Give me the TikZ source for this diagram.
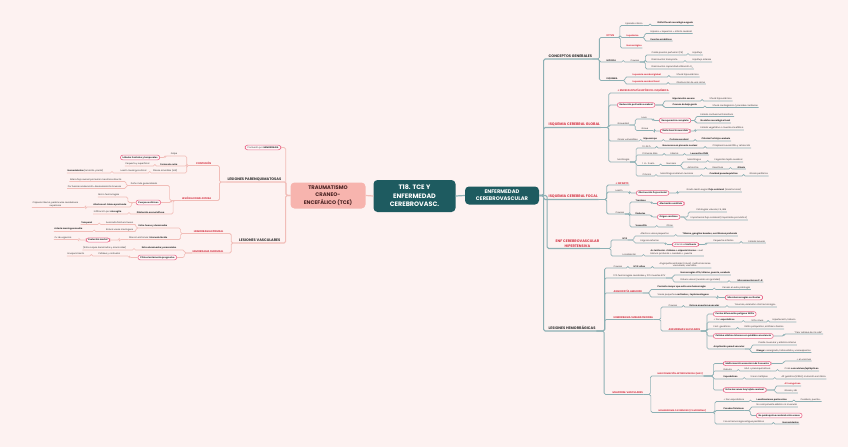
\documentclass[tikz,border=0pt]{standalone}
\usepackage{fontspec}
\setmainfont{Poppins}
\newfontfamily\dvfont{DejaVu Sans}
\usetikzlibrary{calc}
\definecolor{bg}{HTML}{FDF2F1}
\definecolor{tealL}{HTML}{8CB0B4}
\definecolor{pinkL}{HTML}{F1BDB8}
\definecolor{redT}{HTML}{D63A4A}
\definecolor{boxC}{HTML}{EA6B8C}
\definecolor{dteal}{HTML}{1E5B60}
\definecolor{pinkN}{HTML}{F7B4AE}
\definecolor{txt}{HTML}{333333}
\definecolor{tceT}{HTML}{4A2222}
\newcommand\fsA{\fontsize{2.2}{2.7}\selectfont}
\newcommand\frA{\fontsize{2.5}{3}\selectfont}
\newcommand\fmA{\fontsize{3.6}{4.3}\selectfont}
\tikzset{
 tl/.style={draw=tealL, line width=0.6pt, rounded corners=1.5pt},
 pl/.style={draw=pinkL, line width=0.6pt, rounded corners=1.5pt},
 t/.style={font=\fsA, text=txt, inner xsep=0.5pt, inner ysep=0.7pt, align=left},
 tb/.style={t, font=\fsA\bfseries},
 tr/.style={t, font=\frA\bfseries, text=redT},
 trs/.style={t, font=\fsA\bfseries, text=redT},
 mh/.style={t, font=\fmA\bfseries, inner ysep=1pt},
 mhr/.style={mh, text=redT},
 bx/.style={draw=boxC, line width=0.6pt, rounded corners=2.4pt, fill=white!55!bg, font=\fsA\bfseries, text=txt, inner xsep=2.2pt, inner ysep=1.2pt},
 bxn/.style={bx, font=\fsA},
}
\newcommand\kid[7][]{%
 \node[#4,anchor=south west] (#3) at (#5,#6) {#7};
 \coordinate (kp) at (#2);
 \coordinate (kc) at (#5,#6);
 \coordinate (km) at ($(kp)!0.5!(kc)$);
 \draw[tl,#1] (kp) -- (km |- kp) |- (kc) -- (#3.south east);}
\newcommand\kbx[7][]{%
 \node[#4,anchor=west] (#3) at (#5,#6) {#7};
 \coordinate (kp) at (#2);
 \coordinate (kc) at (#5,#6);
 \coordinate (km) at ($(kp)!0.5!(kc)$);
 \draw[tl,#1] (kp) -- (km |- kp) |- (kc);}
\newcommand\lkid[7][]{%
 \node[#4,anchor=south east] (#3) at (#5,#6) {#7};
 \coordinate (kp) at (#2);
 \coordinate (kc) at (#5,#6);
 \coordinate (km) at ($(kp)!0.5!(kc)$);
 \draw[pl,#1] (kp) -- (km |- kp) |- (kc) -- (#3.south west);}
\newcommand\lkbx[7][]{%
 \node[#4,anchor=east] (#3) at (#5,#6) {#7};
 \coordinate (kp) at (#2);
 \coordinate (kc) at (#5,#6);
 \coordinate (km) at ($(kp)!0.5!(kc)$);
 \draw[pl,#1] (kp) -- (km |- kp) |- (kc);}
\begin{document}
\begin{tikzpicture}[x=1pt,y=-1pt]
\fill[bg] (0,0) rectangle (848,447);
\useasboundingbox (0,0) rectangle (848,447);
% central nodes
\node[fill=dteal, rounded corners=4pt, text=white, font=\fontsize{6.4}{8.6}\selectfont\bfseries, align=center, minimum width=82pt, minimum height=32pt, inner sep=1pt] (ctr) at (414.5,196) {T18. TCE Y\\ENFERMEDAD\\CEREBROVASC.};
\node[fill=pinkN, rounded corners=4pt, text=tceT, font=\fontsize{5.2}{7.4}\selectfont\bfseries, align=center, minimum width=75pt, minimum height=26pt, inner sep=1pt] (tce) at (328,195.5) {TRAUMATISMO\\CRANEO-\\ENCEFÁLICO (TCE)};
\node[fill=dteal, rounded corners=4pt, text=white, font=\fontsize{5.2}{7}\selectfont\bfseries, align=center, minimum width=74pt, minimum height=18pt, inner sep=1pt] (ecv) at (502,195.5) {ENFERMEDAD\\CEREBROVASCULAR};
\draw[tl, line width=1.2pt] (ctr.east) -- (ecv.west);
\draw[pl, line width=1.2pt] (ctr.west) -- (tce.east);

% ---------- RIGHT ----------
\kid[line width=1.1pt]{ecv.east}{cg}{mh}{548}{59}{CONCEPTOS GENERALES}
\kid[line width=1.1pt]{ecv.east}{icg}{mhr}{548}{127.5}{ISQUEMIA CEREBRAL GLOBAL}
\kid[line width=1.1pt]{ecv.east}{icf}{mhr}{548}{199.5}{ISQUEMIA CEREBRAL FOCAL}
\kid[line width=1.1pt]{ecv.east}{ecvh}{mhr,align=center}{555}{248.5}{ENF CEREBROVASCULAR\\HIPERTENSIVA}
\kid[line width=1.1pt]{ecv.east}{lh}{mh}{548}{331}{LESIONES HEMORRÁGICAS}

% conceptos generales
\kid[line width=.8pt]{cg.south east}{ictus}{tr}{606}{37.5}{ICTUS}
\kid{ictus.south east}{epi}{t}{625}{25.5}{Episodio clínico}
\kid{epi.south east}{defi}{tb}{657}{25.5}{Déficit focal neurológico agudo}
\kid{ictus.south east}{isq}{trs}{626}{37.5}{Isquémico}
\kid{isq.south east}{hipa}{t}{650}{33.5}{Hipoxia {\dvfont→} isquemia {\dvfont→} infarto cerebral}
\kid{isq.south east}{emb}{tb}{650}{41}{Eventos embólicos}
\kid{ictus.south east}{hem}{trs}{626}{48}{Hemorrágico}
\kid[line width=.8pt]{cg.south east}{hipox}{tb}{606}{62}{HIPOXIA}
\kid{hipox.south east}{caua}{t}{630}{62}{Causas}
\kid{caua.south east}{ca}{t}{651}{55}{Caída presión perfusión (PA)}
\kid{ca.south east}{cab}{t}{692}{55}{Hipoflujo}
\kid{caua.south east}{cb}{t}{651}{62}{Disminución transporte}
\kid{cb.south east}{cbb}{t}{692}{62}{Hipoflujo arterias}
\kid{caua.south east}{cc}{t}{651}{69}{Disminución capacidad utilización O\textsubscript{2}}
\kid[line width=.8pt]{cg.south east}{isqm}{tb}{606}{80.5}{ISQUEMIA}
\kid{isqm.south east}{igl}{trs}{632}{77}{Isquemia cerebral global}
\kid{igl.south east}{shk}{t}{676}{77}{Shock hipovolémico}
\kid{isqm.south east}{ifo}{trs}{632}{84}{Isquemia cerebral focal}
\kid{ifo.south east}{obs}{t}{676}{84}{Obstrucción de una rama}

% isquemia cerebral global
\kid[line width=.8pt]{icg.south east}{ence}{tr}{617}{93}{+ ENCEFALOPATÍA HIPÓXICO-ISQUÉMICA}
\kbx[line width=.8pt]{icg.south east}{red}{bx}{617}{105}{Reducción perfusión cerebral}
\kid{red.east}{hs}{tb}{672}{101}{Hipotensión severa}
\kid{hs.south east}{shb}{t}{709}{101}{Shock hipovolémico}
\kid{red.east}{cbg}{tb}{672}{107.5}{Causas de bajo gasto}
\kid{cbg.south east}{sca}{t}{712}{107.5}{Shock cardiogénico / paradas cardíacas}
\kid[line width=.8pt]{icg.south east}{grav}{t}{617}{125}{Gravedad}
\kid{grav.south east}{leve}{t}{641}{119}{Leve}
\kbx{leve.south east}{rc}{bx}{659}{120.5}{Recuperación completa}
\kid{rc.east}{ect}{t}{700}{116.5}{Estado confusional transitorio}
\kid{rc.east}{nd}{tb}{700}{123}{No daño neurológico focal}
\kid{grav.south east}{grave}{t}{641}{130.5}{Grave}
\kbx{grave.south east}{df}{bx}{660}{131}{Daño focal irreversible}
\kid{df.east}{ev}{t}{700}{130}{Estado vegetativo o muerte encefálica}
\kid[line width=.8pt]{icg.south east}{zv}{t}{617}{141}{Zonas vulnerables}
\kid{zv.south east}{hipo}{tb}{643}{141}{Hipocampo}
\kid{hipo.south east}{ccr}{tb}{669}{141}{Corteza cerebral}
\kid{ccr.south east}{cpk}{tb}{701}{141}{Células Purkinje cerebelo}
\kid[line width=.8pt]{icg.south east}{morf}{t}{617}{162}{Morfología}
\kid{morf.south east}{agu}{t}{642}{148}{12-24 h}
\kid{agu.south east}{nr}{tb}{662}{148}{Neuronas con picnosis nuclear}
\kid{nr.south east}{cit}{t}{712}{148}{Citoplasma eosinófilo y retracción}
\kid{morf.south east}{pd}{t}{642}{155}{Primeros días}
\kid{pd.south east}{ed}{t}{670}{155}{Edema}
\kid{ed.south east}{pmn}{tb}{690}{155}{Leucocitos PMN}
\kid{morf.south east}{sem}{t}{642}{165.5}{1 d - 2 sem}
\kid{sem.south east}{nec}{t}{666}{165.5}{Necrosis}
\kid{nec.south east}{mac}{t}{687}{162}{Macrófagos}
\kid{mac.south east}{fag}{t}{714}{162}{Fagocitan tejido cerebral}
\kid{nec.south east}{ast}{t}{687}{169}{Astrocitos}
\kid{ast.south east}{rea}{t}{712}{169}{Reactivos}
\kid{rea.south east}{gli}{tb}{737}{169}{Gliosis}
\kid{morf.south east}{cro}{t}{642}{176}{Crónico}
\kid{cro.south east}{mri}{t}{660}{176}{Macrófagos rellenan necrosis}
\kid{mri.south east}{cav}{tb}{709}{176}{Cavidad pseudoquística}
\kid{cav.south east}{gp}{t}{749}{176}{Gliosis periférica}

% isquemia cerebral focal
\kid[line width=.8pt]{icf.south east}{inf}{tr}{615}{185}{+ INFARTO}
\kid[line width=.8pt]{icf.south east}{les}{t}{615}{192}{Lesión}
\kbx{les.south east}{ofa}{bx}{636}{193}{Obstrucción flujo arterial}
\kid{ofa.east}{glc}{t}{686}{192}{Grado lesión según \textbf{flujo colateral} (anastomosis)}
\kid[line width=.8pt]{icf.south east}{caub}{t}{615}{214}{Causas}
\kid{caub.south east}{tro}{tb}{635}{202}{Trombos}
\kbx{tro.south east}{ac}{bx}{657}{203.5}{Afectación carótida}
\kid{caub.south east}{embb}{tb}{635}{215}{Émbolos}
\kbx{embb.south east}{oc}{bx}{657}{217}{Origen cardíaco}
\kid{oc.east}{pv}{t}{696}{212}{Patologías valvular, FA, IAM}
\kid{oc.east}{imp}{t}{690}{220}{Importancia flujo colateral (importante pronóstico)}
\kid{caub.south east}{vas}{tb}{635}{227}{Vasculitis}
\kid{vas.south east}{otr}{t}{666}{227}{Otras}

% hipertensiva
\kid[line width=.8pt]{ecvh.south east}{hta}{tb}{622}{240}{HTA}
\kid{hta.south east}{avp}{t}{640}{236}{Afecta a vasos pequeños}
\kid{avp.south east}{tgb}{tb}{682}{236}{Tálamo, ganglios basales, sust blanca profunda}
\kid{hta.south east}{ea}{t}{640}{243}{Engrosa arterias}
\kbx{ea.south east}{ah}{bxn}{672}{244.5}{Arteriolas \textbf{hialinosis}}
\kid{ah.east}{pin}{t}{713}{243}{Pequeños infartos}
\kid{pin.south east}{el}{t}{748}{243}{Estado lacunar}
\kid[line width=.8pt]{ecvh.south east}{loc}{t}{622}{256}{Localización}
\kid{loc.south east}{acl}{t}{650}{256}{\textbf{Ac lenticular + tálamo + cápsula interna} + sust\\blanca profunda + cerebelo + puente}

% lesiones hemorragicas
\kid[line width=.8pt]{lh.south east}{cauc}{t}{613}{268}{Causas}
\kid{cauc.south east}{htaa}{tb}{633}{268}{HTA: altas}
\kid{htaa.south east}{aw}{t,align=center}{659}{268}{Angiopatía amiloide (rotura), malformaciones\\vasculares, vasculitis...}
\kid[line width=.8pt]{lh.south east}{pct}{t}{613}{278}{10\% hemorragias cerebrales y 10\% muertes ECV}
\kid{pct.south east}{ht}{tb}{680}{275}{Hemorragias HTA, tálamo, puente, cerebelo}
\kid{pct.south east}{rv}{t}{680}{282}{Rotura vasos (cuando son grandes)}
\kid{rv.south east}{mcb}{tb}{737}{282}{Microaneurismas C-B}
\kid[line width=.8pt]{lh.south east}{aa}{tr}{613}{293}{ANGIOPATÍA AMILOIDE}
\kid{aa.south east}{pm}{tb}{657}{289.5}{Paciente mayor que sufre una hemorragia}
\kid{pm.south east}{pep}{t}{722}{289.5}{Pensar en esta patología}
\kid{aa.south east}{vp}{t}{657}{297}{Vasos pequeños \textbf{corticales} y \textbf{leptomeníngeos}}
\kbx{vp.south east}{mhc}{bx}{725}{297.5}{Microhemorragias corticales}
\kid[line width=.8pt]{lh.south east}{hsa}{tr}{613}{319.5}{HEMORRAGIA SUBARACNOIDEA}
\kid{hsa.south east}{caud}{t}{668}{307}{Causas}
\kid{caud.south east}{ras}{tb}{689}{307}{Rotura aneurisma sacular}
\kid{ras.south east}{tra}{t}{734}{307}{Traumas, extensión otra hemorragia...}
\kid{hsa.south east}{asc}{tr}{668}{331}{ANEURISMAS SACULARES}
\kbx{asc.south east}{pbw}{bx}{713}{314}{Puntos bifurcación polígono Willis}
\kid{asc.south east}{fe}{t}{713}{322}{+ frec \textbf{esporádicos}}
\kid{fe.south east}{rcin}{t}{751}{322}{50\% rotura}
\kid{rcin.south east}{htab}{t}{772}{322}{Hipertensión, tabaco}
\kid{asc.south east}{pg}{t}{713}{329}{Fact. genéticos}
\kid{pg.south east}{rp}{t}{744}{329}{Riñón poliquístico, sd Ehlers-Danlos}
\kbx{asc.south east}{csi}{bx}{713}{336}{Cefalea súbita e intensa con pérdida consciencia}
\kid{csi.east}{pcv}{t}{794}{334}{“Peor cefalea de mi vida”}
\kid{asc.south east}{agv}{tb}{713}{349}{Ampliación pared vascular}
\kid{agv.south east}{rm}{t}{758}{345}{Pierde muscular y elástica interna}
\kid{agv.south east}{ri}{t}{756}{352.5}{\textbf{Riesgo:} resangrado, hidrocefalia y vasoespasmo}
\kid[line width=.8pt]{lh.south east}{mv}{tr}{612}{394.5}{MALFORM. VASCULARES}
\kid{mv.south east}{mav}{trs}{657}{376}{MALFORMACIÓN ARTERIOVENOSA (MAV)}
\kbx{mav.south east}{mvm}{bx}{723}{363.5}{Malformación vascular más frecuente}
\kid{mvm.east}{evr}{t}{796}{361}{+ en varones}
\kid{mav.south east}{deb}{t}{723}{371}{Debuta}
\kid{deb.south east}{hsb}{t}{744}{371}{HSA + parenquimatosa}
\kid{hsb.south east}{crc}{t}{784}{371}{Crisis \textbf{convulsivas/epilépticas}}
\kid{mav.south east}{esp}{tb}{723}{379}{Esporádicas}
\kid{esp.south east}{smu}{t}{750}{379}{Si son múltiples}
\kid{smu.south east}{ag}{t}{781}{379}{Alt genética (KRAS), mutación somática}
\kbx{mav.south east}{ezt}{bx}{723}{390}{Entre las zonas hay tejido cerebral}
\kid{ezt.east}{avs}{trs}{784}{386}{AV sanguíneo}
\kid{ezt.east}{gh}{t}{784}{393}{Gliosis y Hb}
\kid{mv.south east}{hc}{trs}{658}{412.5}{HEMANGIOMA CAVERNOSO (CAVERNOMA)}
\kid{hc.south east}{pe}{t}{723}{401.5}{+ frec esporádicos}
\kid{pe.south east}{lpr}{tb}{756}{401.5}{Localizaciones preferentes}
\kid{lpr.south east}{cpu}{t}{800}{401.5}{Cerebelo, puente...}
\kid{hc.south east}{pfi}{tb}{723}{410.5}{Paredes finísimas}
\kid{pfi.south east}{nce}{t}{756}{407}{No componente elástico ni muscular}
\kbx{pfi.south east}{npc}{bx}{756}{415.5}{No parénquima cerebral entre vasos}
\kid{hc.south east}{pha}{t}{723}{424}{Focos hemorragia antigua periférica}
\kid{pha.south east}{hmd}{tb}{782}{424}{Hemosiderina}

% ---------- LEFT ----------
\lkid[line width=1.1pt]{tce.west}{lp}{mh}{282}{182}{LESIONES PARENQUIMATOSAS}
\lkid[line width=1.1pt]{tce.west}{lv}{mh}{281}{243}{LESIONES VASCULARES}
\lkbx[line width=.8pt]{tce.west}{cph}{bxn}{281}{147.5}{Contusión por \textbf{HEMORRAGIA}}
\lkid[line width=.8pt]{lp.south west}{cont}{tr}{212}{165.5}{CONTUSIÓN}
\lkid{cont.south west}{gol}{t}{178}{156}{Golpe}
\lkbx{gol.south west}{ftl}{bx}{160}{157.5}{Lóbulos frontales y temporales}
\lkid{cont.south west}{fc}{tb}{178}{166}{Forma de cuña}
\lkid{fc.south west}{pye}{t}{150}{166}{Pequeña y superficial}
\lkid{cont.south west}{pam}{t}{178}{173}{Placas amarillas (old)}
\lkid{pam.south west}{lmc}{t}{147}{173}{Lesión meningocortical}
\lkid{lmc.south west}{hems}{t}{104}{173}{\textbf{Hemosiderina} (amarillo-parda)}
\lkid[line width=.8pt]{lp.south west}{lad}{tr}{212}{200.5}{LESIÓN AXONAL DIFUSA}
\lkid{lad.south west}{dmg}{t}{158}{185.5}{Daño más generalizado}
\lkid{dmg.south west}{af}{t}{122}{181.5}{Altera flujo axonal por lesión mecánica directa}
\lkid{dmg.south west}{pfz}{t}{122}{188.5}{Por fuerzas aceleración-desaceleración bruscas}
\lkbx{lad.south west}{cesf}{bx}{161}{202.5}{Cuerpos esféricos}
\lkid{cesf.west}{mhe}{t}{120}{197}{Micro hemorragias}
\lkid{cesf.west}{asb}{tb}{127}{207}{Afecta sust. blanca profunda}
\lkid{asb.south west}{cip}{t,align=center}{79}{207.5}{Cápsula interna, pedúnculos cerebelosos\\superiores}
\lkid{lad.south west}{dad}{tb}{165}{214}{Dilatación axonal difusa}
\lkid{dad.south west}{ipm}{t}{122}{214}{Infiltración por \textbf{microglía}}
\lkid[line width=.8pt]{lv.south west}{he}{tr}{224}{233.5}{HEMORRAGIA EPIDURAL}
\lkid{he.south west}{ehd}{tb}{168}{228}{Entre hueso y duramadre}
\lkid{ehd.south west}{afh}{t}{134}{224.5}{Asociada fractura hueso}
\lkid{afh.south west}{tem}{tb}{93}{224.5}{Temporal}
\lkid{ehd.south west}{rvm}{t}{134}{231.5}{Rotura vasos meníngeos}
\lkid{rvm.south west}{amm}{tb}{83}{231.5}{Arteria meníngea media}
\lkid{he.south west}{ili}{t}{168}{239.5}{Días sin síntomas: \textbf{intervalo lúcido}}
\lkbx{ili.south west}{evm}{bx}{110}{240}{Evolución mortal}
\lkid{evm.west}{fur}{t}{72}{239.5}{Cx de urgencia}
\lkid[line width=.8pt]{lv.south west}{hsd}{tr}{224}{253}{HEMORRAGIA SUBDURAL}
\lkid{hsd.south west}{eda}{tb}{177}{250}{Entre duramadre y aracnoides}
\lkid{eda.south west}{ecd}{t}{127}{250}{(Entre capas duramadre y aracnoides)}
\lkbx{hsd.south west}{clp}{bx}{177}{257.5}{Clínico lentamente progresivo}
\lkid{clp.west}{cyc}{t}{121}{256}{Cefalea y confusión}
\lkid{cyc.south west}{env}{t}{85}{256}{Envejecimiento}
\end{tikzpicture}
\end{document}
